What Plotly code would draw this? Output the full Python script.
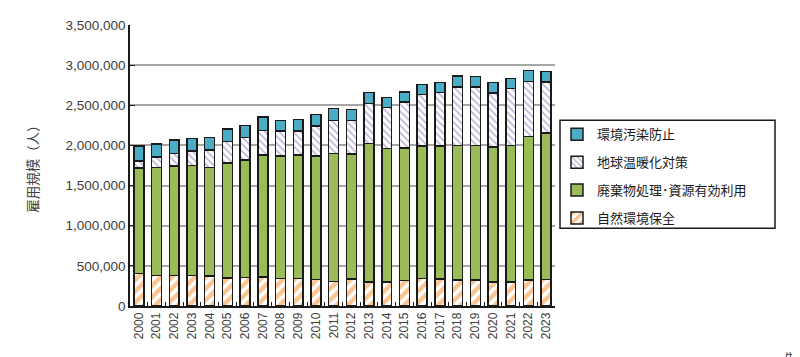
import plotly.graph_objects as go

years = [str(y) for y in range(2000, 2024)]
nature = [407000, 382000, 382000, 382000, 373000, 348000, 352000, 361000, 340000, 340000, 332000, 307000,
          336000, 298000, 298000, 319000, 344000, 336000, 327000, 323000, 302000, 302000, 323000, 332000]
waste = [1313000, 1343000, 1359000, 1368000, 1352000, 1431000, 1468000, 1517000, 1530000, 1538000, 1538000, 1592000,
         1555000, 1726000, 1663000, 1650000, 1646000, 1654000, 1671000, 1675000, 1680000, 1696000, 1788000, 1824000]
climate = [87000, 132000, 158000, 182000, 219000, 273000, 278000, 311000, 307000, 303000, 373000, 414000,
           422000, 497000, 510000, 572000, 643000, 668000, 730000, 730000, 671000, 710000, 684000, 634000]
pollution = [183000, 162000, 166000, 154000, 154000, 153000, 153000, 166000, 136000, 145000, 141000, 146000,
             134000, 137000, 129000, 125000, 124000, 128000, 136000, 133000, 133000, 124000, 137000, 129000]

names = ["自然環境保全", "廃棄物処理･資源有効利用", "地球温暖化対策", "環境汚染防止"]
yticks = [0, 500000, 1000000, 1500000, 2000000, 2500000, 3000000, 3500000]
ytick_text = ["0", "500,000", "1,000,000", "1,500,000", "2,000,000", "2,500,000", "3,000,000", "3,500,000"]

FONT = "Liberation Sans, Arial, Noto Sans CJK JP"
JP = "Noto Sans CJK JP, Liberation Sans"
line = dict(color="#1a1a1a", width=1.5)

fig = go.Figure()
fig.add_bar(x=years, y=nature, name=names[0], legendgroup="a", legendrank=4,
            marker=dict(color="white", line=line,
                        pattern=dict(shape="/", fgcolor="#F58A22", bgcolor="white", size=8, solidity=0.55)))
fig.add_bar(x=years, y=waste, name=names[1], legendgroup="b", legendrank=3,
            marker=dict(color="#9BBB59", line=line))
fig.add_bar(x=years, y=climate, name=names[2], legendgroup="c", legendrank=2,
            marker=dict(color="white", line=line,
                        pattern=dict(shape="\\", fgcolor="#7A63B0", bgcolor="white", size=5, solidity=0.33)))
fig.add_bar(x=years, y=pollution, name=names[3], legendgroup="d", legendrank=1,
            marker=dict(color="#4BACC6", line=line))

# page body has an 8px margin: work in screen pixels, shift by OFF
OFF = 8
W, H = 800 - OFF, 357 - OFF
L, R, T, B = 130 - OFF, 555 - OFF, 24.5 - OFF, 306 - OFF
pw, ph = R - L, B - T

def px(x):
    return (x - OFF - L) / pw

def py(y):
    return (B - (y - OFF)) / ph

fig.update_layout(
    width=W, height=H, barmode="stack", bargap=0.44,
    margin=dict(l=L, r=W - R, t=T, b=H - B, autoexpand=False),
    paper_bgcolor="white", plot_bgcolor="white",
    font=dict(family=FONT, size=13, color="#404040"),
    showlegend=True,
    legend=dict(traceorder="grouped", x=px(557), y=py(119), xanchor="left", yanchor="top",
                font=dict(family=JP, size=13, color="#1a1a1a"), bgcolor="rgba(0,0,0,0)",
                borderwidth=0, tracegroupgap=8, itemwidth=30),
    shapes=[dict(type="rect", xref="paper", yref="paper", x0=px(560), x1=px(775), y0=py(228), y1=py(120),
                 line=dict(color="#1a1a1a", width=1.5), fillcolor="rgba(0,0,0,0)", layer="above")],
    annotations=[dict(text="単位：人", xref="paper", yref="paper", x=px(782), y=py(346), xanchor="left",
                      yanchor="top", showarrow=False, font=dict(family=JP, size=13, color="#404040"))],
)
fig.update_xaxes(type="category", showline=True, linecolor="#1a1a1a", linewidth=1.5, automargin=False,
                 ticks="inside", tickson="boundaries", ticklen=4, tickcolor="#1a1a1a",
                 tickangle=-90, tickfont=dict(size=12, color="#404040"))
fig.update_yaxes(range=[0, 3500000], tickvals=yticks, ticktext=ytick_text, automargin=False,
                 showline=True, linecolor="#1a1a1a", linewidth=1.5,
                 ticks="inside", ticklen=5, tickcolor="#1a1a1a",
                 showgrid=True, gridcolor="#A6A6A6", gridwidth=1.5, zeroline=False,
                 tickfont=dict(size=13.5, color="#404040"),
                 title=dict(text="雇用規模（人）", font=dict(family=JP, size=13.5, color="#404040"), standoff=24))

fig.write_html("out.html")
